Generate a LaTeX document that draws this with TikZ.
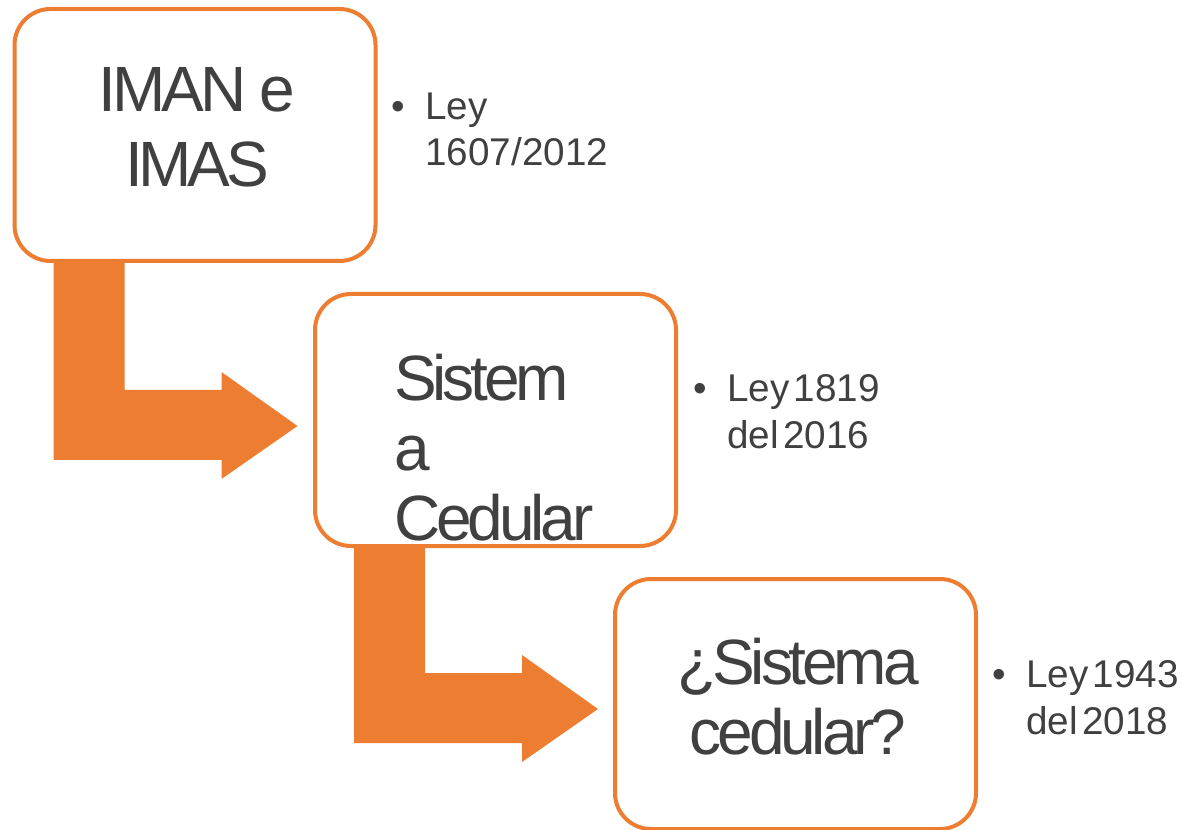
\documentclass[tikz,border=0pt]{standalone}
\usepackage{fontspec}
\setmainfont{Liberation Sans}
\newfontfamily\tightfont[LetterSpace=-6.5]{Liberation Sans}
\newfontfamily\notefont[WordSpace=0.4]{Liberation Sans}
\usetikzlibrary{calc}
\definecolor{accent}{HTML}{ED7D31}
\definecolor{ink}{HTML}{404040}

\begin{document}
\begin{tikzpicture}[x=0.75pt,y=-0.75pt,
  stagebox/.style={draw=accent, line width=3pt, fill=white, rounded corners=27pt,
    minimum width=270.75pt, minimum height=189pt, inner sep=0pt},
  stagetext/.style={text=ink, inner sep=0pt},
  notetext/.style={text=ink, font=\notefont\fontsize{29}{35}\selectfont, inner sep=0pt, align=left},
  flow/.style={fill=accent}]
\useasboundingbox (0,0) rectangle (1182,830);

% stage frames (placed first so the arrows can hang from them)
\path (195,135) node[stagebox, draw=none, fill=none] (box1) {};
\path (495.5,420) node[stagebox, draw=none, fill=none] (box2) {};
\path (795.5,704) node[stagebox, draw=none, fill=none, minimum height=187.5pt] (box3) {};

% bent block arrows between the stages
\fill[flow] ($(box1.south west)+(41,0)$) -- ++(71,0) -- ++(0,127) -- ++(97,0)
  -- ++(0,-18) -- ++(76,54) -- ++(-76,53) -- ++(0,-19) -- ++(-168,0) -- cycle;
\fill[flow] ($(box2.south west)+(41,0)$) -- ++(71,0) -- ++(0,125) -- ++(97,0)
  -- ++(0,-18) -- ++(76,54) -- ++(-76,53) -- ++(0,-19) -- ++(-168,0) -- cycle;

% stage boxes drawn over the arrow stems
\node[stagebox] at (box1) {};
\node[stagebox] at (box2) {};
\node[stagebox, minimum height=187.5pt] at (box3) {};

% stage labels
\node[stagetext, align=center, font=\tightfont\fontsize{48}{56}\selectfont] (t1) at (197,127) {IMAN e\\IMAS};
\node[stagetext, align=left, anchor=west, font=\tightfont\fontsize{48}{52.5}\selectfont] (t2) at (394,448) {Sistem\\a\\Cedular};
\node[stagetext, align=center, font=\tightfont\fontsize{48}{52}\selectfont] (t3) at (798,696.5) {¿Sistema\\cedular?};

% legal references
\node[notetext, anchor=west] (n1) at (425,129.5) {\llap{•\hspace{15pt}}Ley\\1607/2012};
\node[notetext, anchor=west] (n2) at (727,411.5) {\llap{•\hspace{15pt}}Ley 1819\\del 2016};
\node[notetext, anchor=west] (n3) at (1026,698) {\llap{•\hspace{15pt}}Ley 1943\\del 2018};
\end{tikzpicture}
\end{document}
